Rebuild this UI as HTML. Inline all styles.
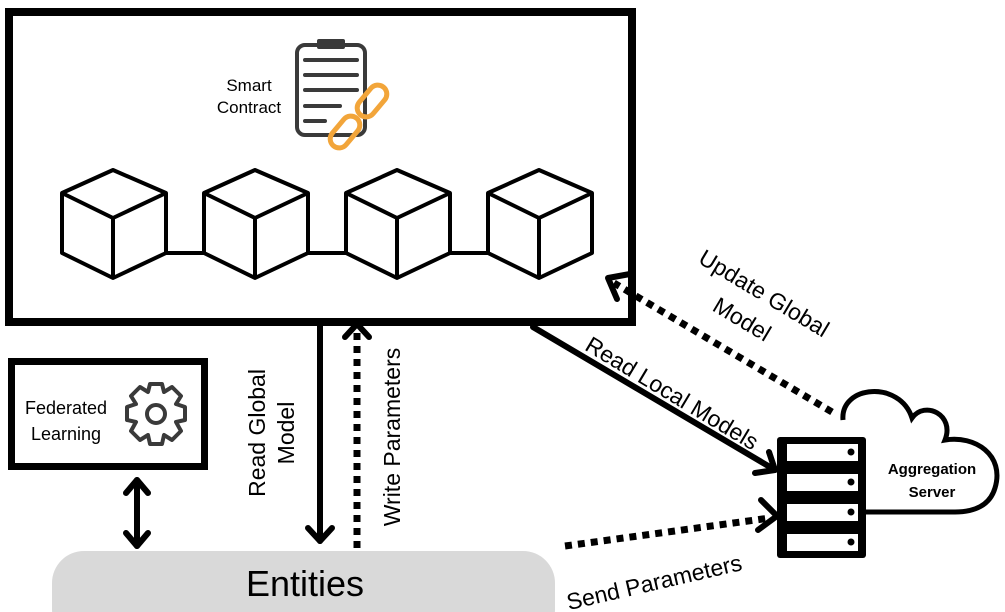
<!DOCTYPE html>
<html><head><style>body{margin:0;background:#fff}svg{display:block}text{font-family:"Liberation Sans",sans-serif}</style></head><body>
<svg width="1005" height="612" viewBox="0 0 1005 612" xmlns="http://www.w3.org/2000/svg">
<rect x="9" y="12" width="623" height="310" fill="#fff" stroke="#000" stroke-width="8"/>
<!-- clipboard -->
<g stroke="#3a3a3a" fill="none" stroke-width="4" stroke-linecap="round">
<rect x="297" y="45" width="68" height="90" rx="8"/>
<line x1="305" y1="60" x2="357" y2="60"/><line x1="305" y1="75" x2="357" y2="75"/><line x1="305" y1="90" x2="357" y2="90"/><line x1="305" y1="106" x2="340" y2="106"/><line x1="305" y1="121" x2="325" y2="121"/>
</g>
<rect x="317" y="39" width="28" height="10" rx="2" fill="#3a3a3a"/>
<g stroke="#f2a53a" fill="none" stroke-width="5">
<rect x="363" y="83" width="18" height="36" rx="9" transform="rotate(40 372 101)"/>
<rect x="336" y="114" width="18" height="36" rx="9" transform="rotate(40 345 132)"/>
</g>
<text x="249" y="91" font-size="17" text-anchor="middle">Smart</text>
<text x="249" y="113" font-size="17" text-anchor="middle">Contract</text>
<!-- cubes -->
<g stroke="#000" stroke-width="4" fill="none" stroke-linejoin="round">
<g id="c"><path d="M113 170 L166 193 L166 253 L113 278 L62 253 L62 193 Z M62 193 L113 218 L166 193 M113 218 L113 278"/></g>
<use href="#c" x="142"/><use href="#c" x="284"/><use href="#c" x="426"/>
<line x1="166" y1="253" x2="204" y2="253"/><line x1="308" y1="253" x2="346" y2="253"/><line x1="450" y1="253" x2="488" y2="253"/>
</g>
<!-- FL box -->
<rect x="11.5" y="361.5" width="193" height="105" fill="#fff" stroke="#000" stroke-width="7"/>
<text x="66" y="414" font-size="18" text-anchor="middle">Federated</text>
<text x="66" y="440" font-size="18" text-anchor="middle">Learning</text>
<g transform="translate(156,414)" fill="none" stroke="#3a3a3a" stroke-width="4">
<circle r="9"/>
<path d="M-6 -30 L6 -30 L8 -22 L16 -27 L25 -18 L20 -10 L29 -7 L29 6 L20 8 L25 17 L16 26 L8 21 L6 30 L-6 30 L-8 21 L-16 26 L-25 17 L-20 8 L-29 6 L-29 -7 L-20 -10 L-25 -18 L-16 -27 L-8 -22 Z" stroke-linejoin="round"/>
</g>
<!-- entities -->
<rect x="52" y="551" width="503" height="90" rx="32" fill="#d9d9d9"/>
<text x="305" y="596" font-size="36" text-anchor="middle">Entities</text>
<!-- arrows -->
<g stroke="#000" stroke-width="6" fill="none" stroke-linecap="round" stroke-linejoin="round">
<line x1="137" y1="480" x2="137" y2="546"/><path d="M126 493 L137 480 L148 493 M126 533 L137 546 L148 533"/>
<line x1="320" y1="326" x2="320" y2="541"/><path d="M308 528 L320 541 L332 528"/>
<path d="M345 337 L357 324 L369 337"/>
<line x1="533" y1="327" x2="775" y2="470"/><path d="M755 473 L775 470 L769 452"/>
<path d="M617 299 L608 278 L630 274"/>
<path d="M758 530 L777 516 L761 500"/>
</g>
<g stroke="#000" stroke-width="7" stroke-dasharray="7 6" fill="none">
<line x1="357" y1="548" x2="357" y2="330"/>
<line x1="832" y1="412" x2="614" y2="283"/>
<line x1="565" y1="546" x2="770" y2="518"/>
</g>
<!-- cloud -->
<path d="M843 420 C840 385 900 380 912 418 C925 400 955 415 945 440 C975 435 1005 455 995 488 C990 505 975 512 955 512 L866 512" fill="#fff" stroke="#000" stroke-width="5"/>
<text x="932" y="474" font-size="15" font-weight="bold" text-anchor="middle">Aggregation</text>
<text x="932" y="497" font-size="15" font-weight="bold" text-anchor="middle">Server</text>
<!-- server -->
<rect x="777" y="437" width="89" height="121" rx="3" fill="#000"/>
<g fill="#fff"><rect x="787" y="444" width="71" height="17"/><rect x="787" y="474" width="71" height="17"/><rect x="787" y="504" width="71" height="17"/><rect x="787" y="534" width="71" height="17"/></g>
<g fill="#000"><circle cx="851" cy="452" r="3.5"/><circle cx="851" cy="482" r="3.5"/><circle cx="851" cy="512" r="3.5"/><circle cx="851" cy="542" r="3.5"/></g>
<!-- labels -->
<g font-size="23" text-anchor="middle">
<text transform="translate(265,433) rotate(-90)">Read Global</text>
<text transform="translate(294,433) rotate(-90)">Model</text>
<text transform="translate(400,437) rotate(-90)">Write Parameters</text>
<text transform="translate(668,400) rotate(31)">Read Local Models</text>
<text transform="translate(760,300) rotate(31)">Update Global</text>
<text transform="translate(738,326) rotate(31)">Model</text>
<text transform="translate(656,590) rotate(-13)">Send Parameters</text>
</g>
</svg>
</body></html>
